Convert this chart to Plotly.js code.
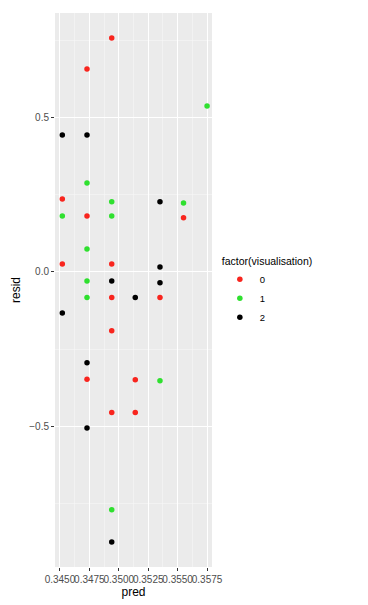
<!DOCTYPE html>
<html><head><meta charset="utf-8">
<script src="https://cdn.plot.ly/plotly-3.0.1.min.js"></script>
<style>html,body{margin:0;padding:0;background:#fff;}</style>
</head><body>
<div id="chart" style="width:368px;height:605px;"></div>
<script>
// Data
var pred0 = [0.3494, 0.3473, 0.3452, 0.3473, 0.3555, 0.3452, 0.3494, 0.3494, 0.3535, 0.3494, 0.3473, 0.3514, 0.3494, 0.3514];
var resid0 = [0.757, 0.657, 0.236, 0.181, 0.175, 0.026, 0.026, -0.083, -0.083, -0.19, -0.347, -0.349, -0.455, -0.455];
var pred1 = [0.3575, 0.3473, 0.3494, 0.3555, 0.3452, 0.3494, 0.3473, 0.3473, 0.3473, 0.3535, 0.3494];
var resid1 = [0.537, 0.288, 0.227, 0.223, 0.181, 0.181, 0.074, -0.029, -0.083, -0.352, -0.77];
var pred2 = [0.3452, 0.3473, 0.3535, 0.3535, 0.3494, 0.3535, 0.3514, 0.3452, 0.3473, 0.3473, 0.3494];
var resid2 = [0.443, 0.443, 0.227, 0.016, -0.029, -0.035, -0.083, -0.133, -0.294, -0.505, -0.874];
var groupNames = ['0', '1', '2'];
var groupColors = ['#F8251E', '#2FE02F', '#000000'];

var preds = [pred0, pred1, pred2];
var resids = [resid0, resid1, resid2];
var traces = groupNames.map(function(g, i){
  return {x: preds[i], y: resids[i], type:'scatter', mode:'markers', name:g,
    marker:{color:groupColors[i], size:5.5}};
});

var layout = {
  width:368, height:605,
  margin:{l:55, r:156, t:13, b:38},
  paper_bgcolor:'#ffffff', plot_bgcolor:'#EBEBEB',
  font:{family:'Liberation Sans, Arial, sans-serif', color:'#4D4D4D'},
  showlegend:true,
  xaxis:{range:[0.34458,0.35792], tick0:0.345, dtick:0.0025, tickformat:'.4f',
    tickangle:0, automargin:false,
    showgrid:true, gridcolor:'#FFFFFF', gridwidth:1.1, zeroline:false,
    minor:{dtick:0.00125, tick0:0.345, showgrid:true, gridcolor:'#F7F7F7', gridwidth:0.6},
    ticks:'outside', ticklen:3, tickcolor:'#333333', tickwidth:1,
    tickfont:{size:10, color:'#4D4D4D'},
    title:{text:'pred', font:{size:12, color:'#000000'}, standoff:3}},
  yaxis:{range:[-0.955,0.838], tick0:0, dtick:0.5, tickformat:'.1f', automargin:false,
    showgrid:true, gridcolor:'#FFFFFF', gridwidth:1.1, zeroline:false,
    minor:{dtick:0.25, tick0:0, showgrid:true, gridcolor:'#F7F7F7', gridwidth:0.6},
    ticks:'outside', ticklen:3, tickcolor:'#333333', tickwidth:1,
    tickfont:{size:10, color:'#4D4D4D'},
    title:{text:'resid', font:{size:12, color:'#000000'}, standoff:6}},
  legend:{x:1.05, xanchor:'left', y:0.57, yanchor:'top',
    title:{text:'factor(visualisation)', font:{size:10.5, color:'#000000'}},
    font:{size:9.5, color:'#000000'}, bgcolor:'rgba(0,0,0,0)', tracegroupgap:0,
    itemwidth:30}
};
Plotly.newPlot('chart', traces, layout, {displayModeBar:false, staticPlot:true});
</script>
</body></html>
